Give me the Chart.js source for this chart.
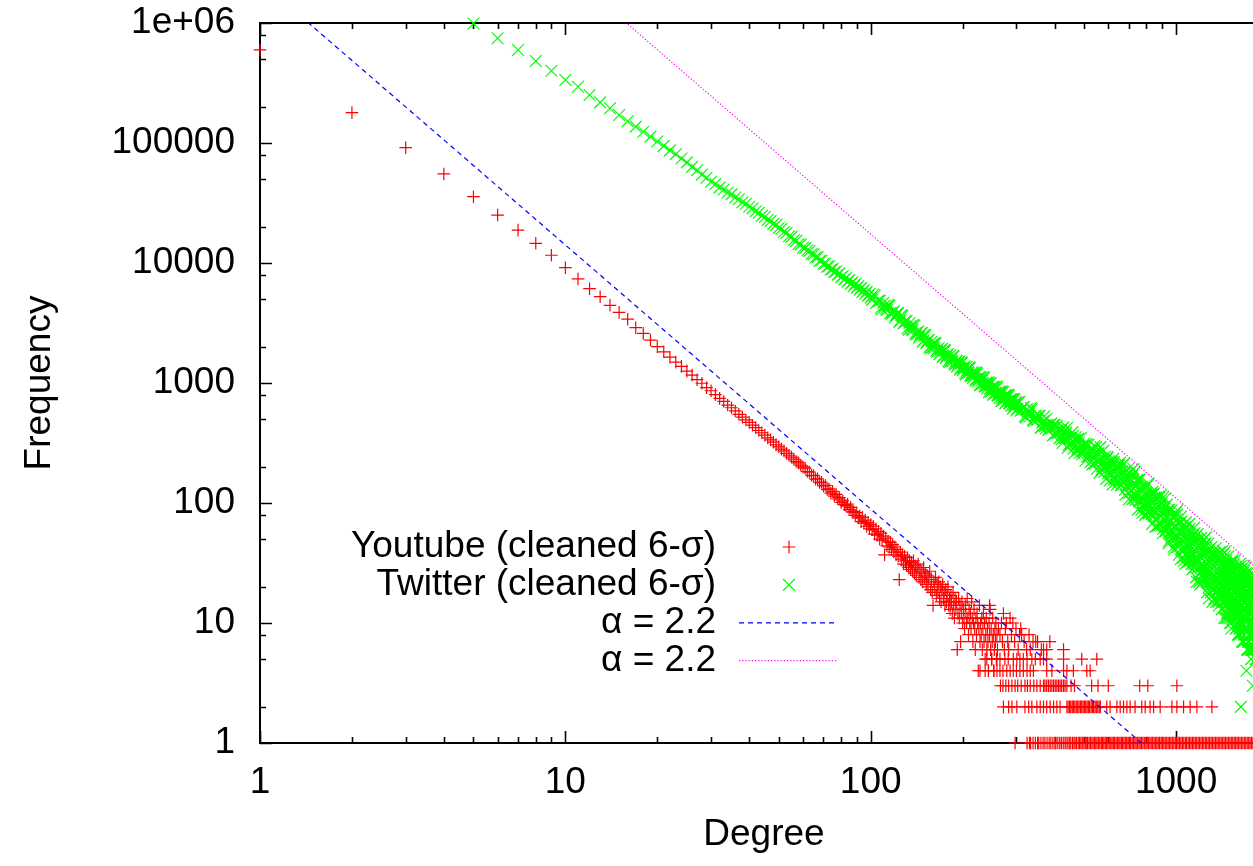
<!DOCTYPE html>
<html>
<head>
<meta charset="utf-8">
<title>Degree distribution</title>
<script src="https://cdn.jsdelivr.net/npm/chart.js@4/dist/chart.umd.min.js"></script>
<style>
  html, body { margin: 0; padding: 0; background: #ffffff; overflow: hidden; }
  #plot { display: block; }
</style>
</head>
<body>
<canvas id="plot" width="1268" height="866"></canvas>
<script>
// ---------------------------------------------------------------
// Degree distributions (frequency of each node degree), log-log.
// ---------------------------------------------------------------

// Youtube: frequency for degree 1..100
const ytFreqA = [
  596000, 179000, 91400, 55200, 35700, 25100, 18800, 14600, 11600, 9140,
  7360, 6110, 5240, 4440, 3880, 3400, 2890, 2590, 2280, 2010,
  1820, 1640, 1490, 1375, 1255, 1165, 1065, 995, 915, 862,
  800, 745, 702, 655, 622, 585, 548, 520, 492, 470,
  445, 425, 402, 385, 368, 349, 336, 321, 305, 294,
  281, 272, 259, 250, 241, 232, 222, 216, 207, 200,
  195, 183, 181, 170, 169, 158, 159, 148, 149, 139,
  140, 130, 131, 121, 125, 114, 118, 108, 111, 101,
  104, 97, 95, 98, 88, 92, 84, 85, 79, 83,
  75, 78, 70, 76, 68, 72, 64, 69, 61, 66
];

// Youtube: frequency for degree 101..260
const ytFreqB = [
  60, 64, 55, 61, 54, 58, 50, 56, 49, 53,
  37, 51, 44, 48, 43, 47, 41, 45, 39, 43,
  37, 41, 36, 23, 39, 34, 37, 31, 36, 33,
  30, 35, 29, 33, 28, 32, 27, 33, 26, 30,
  25, 29, 31, 24, 28, 23, 27, 22, 29, 24,
  26, 21, 25, 20, 24, 27, 19, 23, 18, 14,
  22, 19, 24, 17, 21, 18, 22, 16, 20, 15,
  19, 21, 16, 18, 14, 19, 15, 17, 20, 14,
  16, 13, 17, 15, 12, 18, 14, 11, 16, 13,
  15, 6, 12, 16, 11, 14, 7, 12, 15, 10,
  13, 11, 9, 14, 12, 10, 16, 11, 8, 13,
  10, 12, 9, 15, 11, 7, 10, 13, 9, 6,
  11, 8, 12, 10, 4, 9, 14, 7, 10, 8,
  11, 6, 9, 12, 7, 10, 5, 8, 11, 6,
  9, 7, 4, 10, 8, 13, 6, 9, 5, 7,
  11, 8, 4, 6, 9, 7, 10, 5, 8, 6
];

// Youtube: sparse degrees above 240 with frequency 6 or more  [degree, frequency]
const ytSparse = [
  [245, 14], [262, 9], [265, 8], [268, 10], [270, 7], [272, 12], [274, 6], [276, 9],
  [278, 10], [281, 7], [283, 6], [286, 11], [289, 8], [292, 10], [296, 7], [299, 9],
  [304, 6], [307, 8], [310, 9], [312, 8], [318, 7], [324, 6], [330, 8], [333, 6],
  [340, 7], [347, 7], [352, 7], [362, 6], [368, 6], [377, 6], [386, 7], [428, 6]
];

// Youtube tail: degrees whose frequency is 5, 4, 3, 2 and 1
const ytDegF5 = [240, 249, 259, 265, 275, 282, 293, 301, 308, 316, 325, 337, 346, 359, 368, 377, 428, 491, 550];
const ytDegF4 = [228, 237, 243, 253, 259, 265, 271, 279, 286, 293, 300, 308, 316, 325, 333, 341, 377, 392, 428, 439, 461, 510, 523];
const ytDegF3 = [266, 271, 277, 283, 290, 297, 303, 311, 320, 326, 333, 342, 350, 359, 368, 372, 377, 382, 387, 392,
  397, 402, 407, 412, 417, 422, 428, 433, 439, 453, 465, 529, 555, 600, 760, 808, 1006];
const ytDegF2 = [272, 283, 290, 301, 320, 329, 337, 350, 359, 368, 377, 387, 397, 407, 417, 439, 443, 448, 452, 457,
  461, 466, 471, 476, 481, 486, 491, 496, 501, 506, 511, 516, 521, 527, 532, 537, 543, 548, 554, 560,
  565, 593, 608, 640, 656, 673, 690, 707, 734, 772, 792, 822, 844, 887, 969, 1006, 1058, 1112, 1170, 1310];
const ytDegF1 = [297, 325, 331, 334, 340, 346, 352, 355, 361, 367, 372, 378, 384, 389, 395, 401, 404, 410, 416, 421,
  427, 433, 436, 442, 447, 452, 458, 463, 467, 472, 478, 483, 488, 493, 499, 504, 508, 513, 519, 524,
  530, 535, 541, 546, 551, 557, 563, 569, 574, 580, 586, 592, 598, 604, 611, 617, 623, 629, 636, 642,
  649, 655, 662, 668, 675, 682, 689, 696, 703, 710, 718, 725, 733, 740, 748, 756, 763, 771, 779, 787,
  796, 804, 812, 821, 829, 838, 847, 856, 865, 874, 883, 893, 902, 912, 922, 932, 942, 952, 962, 972,
  983, 994, 1004, 1015, 1026, 1037, 1049, 1060, 1072, 1083, 1095, 1107, 1119, 1131, 1143, 1156, 1168, 1181, 1194, 1207,
  1220, 1233, 1247, 1260, 1274, 1288, 1302, 1316, 1331, 1345, 1360, 1375, 1390, 1405, 1421, 1436, 1452, 1468, 1484, 1500,
  1517, 1533, 1550, 1567, 1584, 1601, 1619, 1637, 1655, 1673, 1691, 1710, 1729, 1747, 1767, 1786, 1805, 1825, 1845, 1865];

// Twitter: frequency for degree 5..100
const twFreqA = [
  990000, 746000, 596000, 482000, 400000, 335000, 294000, 251000, 218000, 195000,
  171000, 152000, 137000, 124000, 113000, 103000, 94600, 86800, 80700, 74300,
  68900, 63200, 59200, 54500, 51300, 47600, 45500, 42700, 41000, 38700,
  37300, 35100, 34000, 32100, 31200, 29400, 28500, 26900, 26200, 24700,
  24200, 22800, 22400, 21200, 20800, 19600, 19200, 18100, 17800, 16700,
  16500, 15500, 15300, 14400, 14300, 13400, 13300, 12700, 12600, 11900,
  11800, 11100, 11200, 10400, 10500, 9800, 9900, 9300, 9400, 8800,
  8900, 8400, 8500, 8000, 8200, 7600, 7800, 7300, 7500, 7000,
  7200, 6700, 6900, 6400, 6700, 6200, 6400, 6000, 6200, 5750,
  5950, 5550, 5750, 5350, 5500, 5150
];

// Twitter: frequency for the odd degrees 101..299
const twFreqOdd = [
  4930, 5360, 4740, 4860, 4100, 4410, 4050, 4410, 3720, 3950,
  3680, 3820, 3330, 3620, 3200, 3290, 2780, 2990, 2760, 3000,
  2530, 2690, 2510, 2610, 2270, 2490, 2210, 2280, 1940, 2100,
  1950, 2140, 1820, 1950, 1840, 1920, 1690, 1860, 1670, 1740,
  1490, 1620, 1510, 1670, 1420, 1530, 1440, 1510, 1330, 1470,
  1320, 1380, 1180, 1290, 1210, 1330, 1140, 1230, 1160, 1220,
  1080, 1190, 1075, 1120, 965, 1055, 990, 1095, 935, 1010,
  955, 1010, 890, 990, 890, 930, 805, 880, 825, 915,
  785, 845, 800, 850, 750, 835, 755, 790, 685, 750,
  705, 785, 675, 730, 695, 735, 650, 725, 655, 690
];

// Twitter: frequency for the even degrees 102..300
const twFreqEven = [
  5460, 4620, 4850, 4220, 4660, 4160, 4480, 3820, 3890, 3510,
  3810, 3230, 3680, 3130, 3280, 2860, 3160, 2830, 3050, 2600,
  2650, 2390, 2600, 2210, 2520, 2150, 2270, 1990, 2210, 1990,
  2160, 1860, 1920, 1740, 1910, 1640, 1880, 1620, 1720, 1520,
  1700, 1540, 1680, 1450, 1500, 1370, 1500, 1290, 1490, 1280,
  1360, 1210, 1360, 1230, 1350, 1160, 1200, 1100, 1210, 1040,
  1220, 1030, 1110, 960, 1120, 1000, 1120, 945, 990, 900,
  1010, 840, 1000, 850, 920, 800, 930, 830, 940, 790,
  830, 750, 845, 710, 850, 720, 780, 680, 790, 710,
  800, 680, 710, 650, 730, 610, 740, 630, 680, 590
];

// Twitter: frequency for degree 302..997, every fifth degree
const twFreqC1 = [
  606, 695, 598, 633, 515, 577, 529, 604, 486, 534, 497, 532,
  426, 479, 439, 504, 407, 448, 418, 448, 380, 439, 380, 406,
  340, 427, 347, 386, 289, 349, 312, 388, 285, 334, 304, 342,
  279, 347, 255, 299, 273, 307, 244, 306, 250, 279, 210, 254,
  213, 292, 224, 260, 179, 232, 202, 272, 181, 226, 201, 237,
  223, 154, 198, 173, 233, 156, 194, 174, 205, 151, 207, 159,
  141, 204, 151, 180, 117, 159, 135, 193, 121, 157, 138, 168,
  144, 120, 181, 106, 142, 123, 154, 103, 157, 111, 136, 83,
  105, 130, 79, 112, 94, 140, 83, 111, 96, 121, 81, 124,
  78, 120, 85, 104, 64, 90, 76, 113, 67, 90, 78, 98,
  110, 61, 85, 73, 94, 60, 97, 66, 83, 48, 71, 58,
  54, 87, 59, 75, 43, 64, 52, 83
];

// Twitter: frequency for degree 305..1000, every fifth degree
const twFreqC2 = [
  697, 587, 625, 530, 606, 552, 621, 492, 527, 491, 535, 425,
  467, 529, 420, 450, 420, 460, 366, 447, 379, 406, 347, 399,
  316, 393, 348, 424, 305, 342, 312, 362, 260, 355, 281, 316,
  262, 295, 270, 313, 225, 308, 244, 274, 219, 274, 243, 298,
  257, 192, 259, 222, 292, 190, 223, 199, 244, 159, 242, 178,
  202, 180, 220, 143, 219, 162, 190, 142, 193, 165, 217, 141,
  184, 154, 213, 129, 157, 139, 176, 107, 177, 125, 152, 108,
  192, 109, 137, 117, 155, 88, 156, 104, 130, 88, 133, 109,
  96, 119, 81, 122, 100, 145, 82, 103, 89, 118, 67, 118,
  84, 111, 63, 111, 75, 93, 64, 96, 78, 114, 65, 81,
  56, 89, 72, 109, 58, 75, 63, 87, 46, 88, 56, 72,
  51, 66, 56, 77, 41, 78, 50, 64
];

// Twitter: frequency for degree 1002..1397, every fifth degree
const twFreqD1 = [
  47, 80, 52, 68, 37, 57, 46, 77, 40, 58, 49, 65,
  33, 51, 41, 69, 36, 52, 44, 58, 35, 61, 40, 51,
  31, 47, 39, 54, 31, 56, 35, 47, 24, 39, 31, 55,
  33, 43, 22, 36, 29, 51, 25, 37, 31, 42, 25, 45,
  23, 46, 27, 38, 18, 31, 24, 46, 20, 33, 27, 38,
  22, 43, 19, 31, 25, 36, 19, 38, 23, 32, 15, 26,
  31, 18, 36, 21, 14, 27, 22, 31
];

// Twitter: frequency for degree 1005..1400, every fifth degree
const twFreqD2 = [
  54, 87, 43, 57, 48, 68, 34, 70, 42, 56, 35, 59,
  62, 31, 63, 38, 51, 32, 53, 42, 67, 33, 44, 37,
  46, 28, 49, 37, 62, 29, 40, 33, 48, 22, 50, 29,
  37, 30, 45, 21, 46, 27, 37, 22, 39, 30, 50, 23,
  38, 28, 52, 22, 31, 25, 39, 16, 41, 22, 32, 18,
  23, 37, 15, 38, 21, 30, 16, 32, 23, 42, 18, 26,
  19, 27, 15, 29, 22, 39, 16, 24
];

// Twitter: frequency for degree 1401..1848, every third degree
const twFreqE1 = [
  17, 36, 20, 29, 13, 24, 18, 37, 15, 26, 20, 31,
  23, 17, 36, 14, 25, 20, 30, 15, 33, 18, 27, 11,
  24, 19, 29, 14, 31, 17, 25, 11, 21, 15, 32, 13,
  17, 25, 10, 20, 15, 32, 12, 22, 17, 26, 13, 29,
  31, 12, 21, 16, 25, 12, 28, 15, 22, 9, 18, 13,
  12, 28, 14, 22, 8, 17, 13, 29, 10, 19, 15, 24,
  8, 17, 12, 28, 10, 18, 14, 23, 10, 25, 13, 20,
  10, 26, 13, 20, 7, 16, 11, 27, 9, 17, 13, 22,
  11, 26, 9, 17, 13, 21, 9, 24, 11, 18, 6, 14,
  18, 6, 14, 10, 25, 8, 16, 12, 20, 8, 22, 11,
  15, 12, 19, 8, 22, 10, 17, 6, 13, 9, 23, 7,
  8, 21, 10, 16, 6, 13, 9, 22, 7, 14, 10, 17, 7, 20, 9, 15, 5, 12
];

// Twitter: frequency for degree 1403..1850, every third degree
const twFreqE2 = [
  34, 17, 26, 13, 28, 20, 40, 15, 23, 18, 30, 11,
  39, 15, 22, 17, 29, 11, 31, 16, 24, 12, 26, 19,
  12, 25, 18, 36, 13, 20, 16, 27, 10, 28, 14, 22,
  15, 27, 9, 28, 14, 21, 11, 23, 16, 34, 12, 18,
  23, 16, 33, 12, 18, 14, 24, 9, 26, 12, 19, 10,
  11, 17, 13, 24, 8, 25, 12, 19, 9, 21, 14, 31,
  18, 9, 20, 14, 30, 10, 16, 12, 22, 7, 23, 11,
  22, 7, 24, 10, 17, 8, 19, 13, 30, 9, 15, 11,
  12, 29, 9, 14, 11, 20, 6, 22, 9, 16, 7, 18,
  9, 16, 7, 17, 12, 27, 8, 13, 10, 19, 6, 20,
  13, 10, 19, 6, 20, 9, 14, 6, 16, 11, 25, 7,
  6, 16, 10, 24, 7, 12, 9, 17, 5, 18, 8, 13, 6, 15, 10, 23, 7, 11
];

// Twitter: isolated low-frequency degrees  [degree, frequency]
const twSparse = [[1630, 2], [1700, 4], [1760, 5], [1785, 3]];

// Power-law reference lines  f(k) = A * k^-alpha
const fitAlpha = 2.2;
const fitScaleYoutube = 2.24e6;
const fitScaleTwitter = 4.37e8;
const fitDegreeSpan = [1, 2000];

// Axis ticks
const xTickValues = [1, 10, 100, 1000];
const xTickLabels = ['1', '10', '100', '1000'];
const yTickValues = [1, 10, 100, 1000, 10000, 100000, 1000000];
const yTickLabels = ['1', '10', '100', '1000', '10000', '100000', '1e+06'];
const xMinorSteps = [2, 3, 4, 5, 6, 7, 8, 9];
const yMinorSteps = [2, 5, 8];

const seriesNames = ['Youtube (cleaned 6-\u03c3)', 'Twitter (cleaned 6-\u03c3)'];

// ---------------------------------------------------------------
const FONT = '"Liberation Sans", Arial, Helvetica, sans-serif';
const TEXT_SIZE = 37;

function run(start, step, freqs) {
  return freqs.map((f, i) => ({ x: start + i * step, y: f }));
}
function pairs(list) {
  return list.map(([d, f]) => ({ x: d, y: f }));
}
function row(degrees, f) {
  return degrees.map(d => ({ x: d, y: f }));
}
function fitLine(scale, alpha) {
  return fitDegreeSpan.map(k => ({ x: k, y: scale * Math.pow(k, -alpha) }));
}

const youtubePoints = [].concat(
  run(1, 1, ytFreqA),
  run(101, 1, ytFreqB),
  pairs(ytSparse),
  row(ytDegF5, 5), row(ytDegF4, 4), row(ytDegF3, 3), row(ytDegF2, 2), row(ytDegF1, 1)
);
const twitterPoints = [].concat(
  run(5, 1, twFreqA),
  run(101, 2, twFreqOdd),
  run(102, 2, twFreqEven),
  run(302, 5, twFreqC1),
  run(305, 5, twFreqC2),
  run(1002, 5, twFreqD1),
  run(1005, 5, twFreqD2),
  run(1401, 3, twFreqE1),
  run(1403, 3, twFreqE2),
  pairs(twSparse)
);

// Box with inward major/minor tick marks on every side
const frameTicks = {
  id: 'frameTicks',
  beforeDatasetsDraw(chart) {
    const { ctx, chartArea: a, scales } = chart;
    const xs = scales.x, ys = scales.y;
    ctx.save();
    ctx.strokeStyle = '#000';
    ctx.lineWidth = 1.6;
    ctx.beginPath();
    for (let dec = 1; dec <= xs.max; dec *= 10) {
      [1].concat(xMinorSteps).forEach(m => {
        const v = dec * m;
        if (v > xs.max) return;
        const px = Math.round(xs.getPixelForValue(v)) + 0.5;
        const len = m === 1 ? 12 : 6;
        ctx.moveTo(px, a.bottom); ctx.lineTo(px, a.bottom - len);
        ctx.moveTo(px, a.top); ctx.lineTo(px, a.top + len);
      });
    }
    for (let dec = 1; dec <= ys.max; dec *= 10) {
      [1].concat(yMinorSteps).forEach(m => {
        const v = dec * m;
        if (v > ys.max) return;
        const py = Math.round(ys.getPixelForValue(v)) + 0.5;
        const len = m === 1 ? 12 : 6;
        ctx.moveTo(a.left, py); ctx.lineTo(a.left + len, py);
        ctx.moveTo(a.right, py); ctx.lineTo(a.right - len, py);
      });
    }
    ctx.stroke();
    ctx.lineWidth = 2;
    ctx.strokeRect(a.left, a.top, a.right - a.left, a.bottom - a.top);
    ctx.restore();
  }
};

// Key: labels right-aligned, sample mark or line to the right
const keyPanel = {
  id: 'keyPanel',
  afterDatasetsDraw(chart) {
    const ctx = chart.ctx;
    const textRight = 716, markX = 789, lineX0 = 739, lineX1 = 838;
    const top = 547, step = 37.9;
    ctx.save();
    ctx.font = TEXT_SIZE + 'px ' + FONT;
    ctx.textAlign = 'right';
    ctx.textBaseline = 'middle';
    chart.data.datasets.forEach((ds, i) => {
      const y = top + i * step;
      ctx.fillStyle = '#000';
      ctx.fillText(ds.label, textRight, y);
      ctx.strokeStyle = ds.borderColor;
      ctx.lineWidth = ds.borderWidth;
      ctx.beginPath();
      if (ds.showLine) {
        ctx.setLineDash(ds.borderDash || []);
        ctx.moveTo(lineX0, y); ctx.lineTo(lineX1, y);
      } else if (ds.pointStyle === 'cross') {
        const r = ds.pointRadius;
        ctx.moveTo(markX - r, y); ctx.lineTo(markX + r, y);
        ctx.moveTo(markX, y - r); ctx.lineTo(markX, y + r);
      } else {
        const r = ds.pointRadius * Math.SQRT1_2;
        ctx.moveTo(markX - r, y - r); ctx.lineTo(markX + r, y + r);
        ctx.moveTo(markX - r, y + r); ctx.lineTo(markX + r, y - r);
      }
      ctx.stroke();
      ctx.setLineDash([]);
    });
    ctx.restore();
  }
};

Chart.defaults.font.family = FONT;
Chart.defaults.color = '#000';

new Chart(document.getElementById('plot'), {
  type: 'scatter',
  data: {
    datasets: [
      {
        label: seriesNames[0],
        data: youtubePoints,
        pointStyle: 'cross',
        pointRadius: 6.3,
        borderColor: 'rgb(255,0,0)',
        backgroundColor: 'rgb(255,0,0)',
        borderWidth: 1.2,
        clip: false,
        order: 4
      },
      {
        label: seriesNames[1],
        data: twitterPoints,
        pointStyle: 'crossRot',
        pointRadius: 8.3,
        borderColor: 'rgb(0,255,0)',
        backgroundColor: 'rgb(0,255,0)',
        borderWidth: 1.2,
        clip: false,
        order: 3
      },
      {
        label: '\u03b1 = ' + fitAlpha,
        data: fitLine(fitScaleYoutube, fitAlpha),
        showLine: true,
        pointRadius: 0,
        borderColor: 'rgb(0,0,255)',
        borderWidth: 1.2,
        borderDash: [5, 4],
        order: 2
      },
      {
        label: '\u03b1 = ' + fitAlpha,
        data: fitLine(fitScaleTwitter, fitAlpha),
        showLine: true,
        pointRadius: 0,
        borderColor: 'rgb(255,0,255)',
        borderWidth: 1.2,
        borderDash: [1.2, 2],
        order: 1
      }
    ]
  },
  options: {
    responsive: false,
    animation: false,
    events: [],
    devicePixelRatio: 1,
    layout: { autoPadding: false, padding: { top: 23, right: 0, bottom: 0, left: 0 } },
    plugins: { legend: { display: false }, tooltip: { enabled: false } },
    scales: {
      x: {
        type: 'logarithmic',
        position: 'bottom',
        min: 1,
        max: 2000,
        grid: { display: false, drawTicks: false },
        border: { display: false },
        afterBuildTicks: s => { s.ticks = xTickValues.map(v => ({ value: v })); },
        afterFit: s => { s.height = 123; s.paddingLeft = 0; s.paddingRight = 0; },
        ticks: {
          autoSkip: false, maxRotation: 0, minRotation: 0, padding: 18,
          color: '#000', font: { size: TEXT_SIZE, family: FONT },
          callback: v => xTickLabels[xTickValues.indexOf(v)]
        },
        title: {
          display: true, text: 'Degree', color: '#000',
          font: { size: TEXT_SIZE, family: FONT },
          padding: { top: 0, bottom: 9 }
        }
      },
      y: {
        type: 'logarithmic',
        position: 'left',
        min: 1,
        max: 1000000,
        grid: { display: false, drawTicks: false },
        border: { display: false },
        afterBuildTicks: s => { s.ticks = yTickValues.map(v => ({ value: v })); },
        afterFit: s => { s.width = 260; s.paddingTop = 0; s.paddingBottom = 0; },
        ticks: {
          autoSkip: false, padding: 25,
          color: '#000', font: { size: TEXT_SIZE, family: FONT },
          callback: v => yTickLabels[yTickValues.indexOf(v)]
        },
        title: {
          display: true, text: 'Frequency', color: '#000',
          font: { size: TEXT_SIZE, family: FONT },
          padding: { top: 18, bottom: 0 }
        }
      }
    }
  },
  plugins: [frameTicks, keyPanel]
});
</script>
</body>
</html>
